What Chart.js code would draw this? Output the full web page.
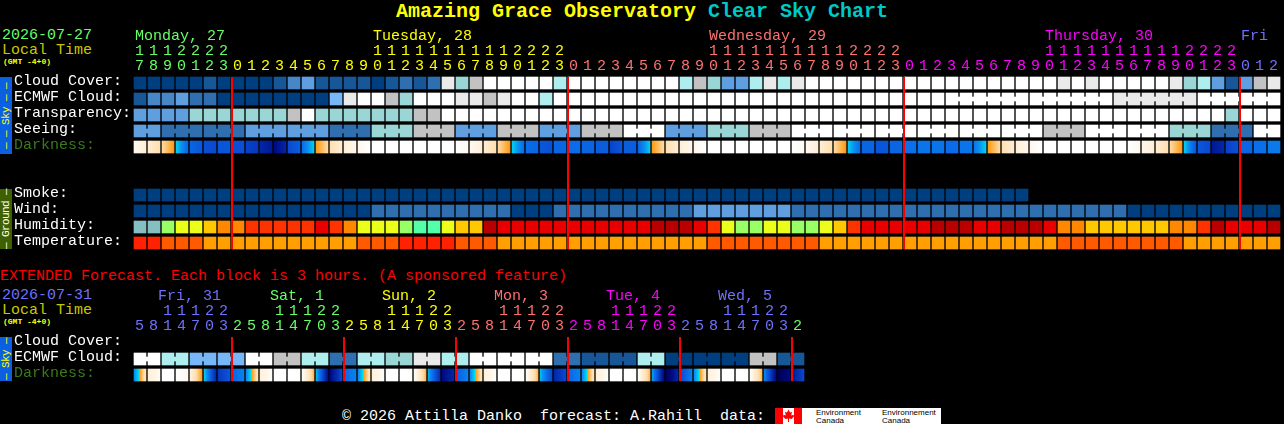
<!DOCTYPE html>
<html>
<head>
<meta charset="utf-8">
<title>Clear Sky Chart</title>
<script src="https://cdn.jsdelivr.net/npm/chart.js@4"></script>
<style>
    html, body { margin: 0; background: #000; width: 1284px; height: 424px; overflow: hidden; }
    canvas { position: absolute; left: 0; }
    .t { position: absolute; white-space: pre; font: 15px/15px 'Liberation Mono', monospace; }
    .small { font-size: 8px; line-height: 8px; color: #ffff00; font-weight: bold; }
    .side { position: absolute; left: 0; width: 12px; }
    .side span { position: absolute; left: 50%; top: 50%; transform: translate(-50%, -50%) rotate(-90deg);
        white-space: pre; font: 11px/11px 'Liberation Mono', monospace; letter-spacing: -0.6px; }
</style>
</head>
<body>
<div class="t" style="left:396px;top:0;font-size:20px;line-height:24px;font-weight:bold;color:#ffff00">Amazing Grace Observatory <span style="color:#00c8c8">Clear Sky Chart</span></div>

<div class="t" style="left:2px;top:28px;color:#66ff66">2026-07-27</div>
<div class="t" style="left:2px;top:43px;color:#c8c800">Local Time</div>
<div class="t small" style="left:3px;top:58px">(GMT -4+0)</div>

<div class="side" style="top:77px;height:77px;background:#0a60e0"><span style="color:#ffff00">— — Sky — —</span></div>
<div class="side" style="top:189px;height:60px;background:#3f6000"><span style="color:#ffffff">— Ground —</span></div>

<div class="t" style="left:0;top:269px;color:#ff0000">EXTENDED Forecast. Each block is 3 hours. (A sponsored feature)</div>
<div class="t" style="left:2px;top:288px;color:#7070ff">2026-07-31</div>
<div class="t" style="left:2px;top:303px;color:#c8c800">Local Time</div>
<div class="t small" style="left:3px;top:318px">(GMT -4+0)</div>
<div class="side" style="top:337px;height:44px;background:#0a60e0"><span style="color:#ffff00">— Sky —</span></div>

<div class="t" style="left:342px;top:409px;color:#fff">© 2026 Attilla Danko  forecast: A.Rahill  data:</div>
<svg style="position:absolute;left:775px;top:408px" width="27" height="16" viewBox="0 0 27 16">
    <rect width="27" height="16" fill="#fff"/>
    <rect width="8" height="16" fill="#f00"/>
    <rect x="19" width="8" height="16" fill="#f00"/>
    <polygon fill="#f00" points="13.5,1.5 15,4.5 17,3.8 16.2,7.5 18.5,6.8 19,8.5 16.5,11 14,10.5 14,14 13,14 13,10.5 10.5,11 8,8.5 8.5,6.8 10.8,7.5 10,3.8 12,4.5"/>
</svg>
<div style="position:absolute;left:802px;top:408px;width:139px;height:16px;background:#fff;color:#000;font:8px/7.5px 'Liberation Sans',sans-serif">
    <div style="position:absolute;left:14px;top:1px">Environment<br>Canada</div>
    <div style="position:absolute;left:80px;top:1px">Environnement<br>Canada</div>
</div>

<canvas id="main" width="1284" height="251" style="top:0"></canvas>
<canvas id="ext" width="1284" height="123" style="top:260px"></canvas>

<script>
// ---- main forecast, one value per hour ----
const hours = [17,18,19,20,21,22,23,
    0,1,2,3,4,5,6,7,8,9,10,11,12,13,14,15,16,17,18,19,20,21,22,23,
    0,1,2,3,4,5,6,7,8,9,10,11,12,13,14,15,16,17,18,19,20,21,22,23,
    0,1,2,3,4,5,6,7,8,9,10,11,12,13,14,15,16,17,18,19,20,21,22,23,
    0,1,2];
const dayLabels = { 0: 'Monday, 27', 17: 'Tuesday, 28', 41: 'Wednesday, 29', 65: 'Thursday, 30', 79: 'Fri' };
const midnights = [7, 31, 55, 79];

// sky rows: 0 = clear / best ... 10 = overcast / worst
const cloudCover = [0,0,0,0,0,1,0, 0,0,0,1,3,4,1, 1,1,1,0,1,2,1, 2,9,6,8,10,10,10,10,10,7,
    10,10,10,10,10,10,10,10, 7,8,6,4,4,7,9,7,9,
    10,10,10,10,10,10,10,10,10,10,10,10,10,10,10,10,10,10,
    9,10,9,10,10,10,10,10,9,6,7,4,1,4,8,9];
const ecmwfCloud = [1,3,3,4,2,2,0, 0,0,0,0,0,0,0, 5,9,10,10,8,6,10, 10,10,9,9,8,9,10,10,7,10,
    10,10,10,10,10,10,10,10,10,10,10,10,10,10,10,10,10,10,10,10,10,10,10,10,10,10,10,
    10,10,10,10,10,10, 10,10,10,10,10,10, 9,9,9,9,9,9, 10,10,10,10,10,10];
const transparency = [4,4,4,4,6,6,6,6,6,6,6,8,10,6,6,6,6,6,6,6,8,8,
    10,10,10,10,10,10,10,10,10,10,10,10,10,10,10,10,10,10,10,10,10,10,10,10,10,10,10,10,
    10,10,10,10,10,10,10,10,10,10,10,10,10,10,10,10,10,10,10,10,10,10,10,10,10,10,10,10,
    6,10,10,10];
const seeing = [4,4, 2,2,2, 2,2,2, 4,4,4, 4,4,4, 2,2,2, 6,6,6, 8,8,8, 4,4,4, 8,8,8, 4,4,4, 8,8,8,
    10,10,10, 4,4,4, 6,6,6, 8,8,8, 10,10,10, 10,10,10, 10,10,10, 10,10,10, 10,10,10, 10,10,10,
    8,8,8, 10,10,10, 10,10,10, 6,6,6, 2,2,2, 10,10];
// darkness at the left and right edge of each hour: 0 = daylight ... 9 = darkest
const darkStart = [.4,1.1,2,3.4,5.2,5.8,5.6, 5.8,6.2,7,8,6,5,3,1.8,1,.5,0,0,0,0,0,0,0,.4,1.1,2,3.4,5,5.6,5.2,
    5,5.2,5.4,6.2,5.4,5.2,3,1.8,1,.5,0,0,0,0,0,0,0,.4,1.1,2,3.4,5.2,5.6,5.2,
    4.9,4.8,4.8,5,4.8,4.8,3,1.8,1,.5,0,0,0,0,0,0,0,.5,1.1,2,3.4,5.6,7.5,6.2,
    5.2,4.9,4.7];
const darkEnd = [1,1.8,3,5.2,5.6,6,5.6, 5.8,6.5,7.5,7,5.4,3.4,2,1.1,.5,0,0,0,0,0,0,0,.3,1,1.8,3,5,5.2,5.8,5.2,
    5,5.2,5.4,5.6,5.4,3.4,2,1.1,.5,0,0,0,0,0,0,0,.3,1,1.8,3,5,5.2,5.6,5.2,
    4.9,4.8,4.8,5,4.8,3.4,2,1.1,.5,0,0,0,0,0,0,0,.4,1,1.8,3,5.6,6,7,5.8,
    5.2,4.9,4.7];
const smoke = new Array(64).fill(0);
const wind = [0,0,0,0,0,0,0,0,0,0,0,0,0,0,0,0,0, 2,2,2,2,2,2,2,2,2,2, 0,0,0, 2,2,2,2,2,2,2,2,2,2,
    4,4,4,4,4,4,4, 2,2,2,2,2,2,2,2,2,2,2,2, 2,2,2,2,2,2,2,2,2,2,2,2, 0,0,0,0,0,0,0,0,0,0,0];
const humidity = [50,50,60,65,65,70,75, 75,80,80,80,80,80,85,80,75,65,65,65,60,55,
    55,65,70,70,90,85,85,85,85,85, 85,85,85,85,85,85,90,90,90,85,80,65,60,60,65,65,60,60,65,70,80,
    85,85,85,85,85,90,90,90,85,85,90,90,90,85,75,75,70,70,70,70,70,70,75,75,80,90,85,85,85,90];
const temperature = [28,28,24,24,24,20,20, 20,20,20,20,20,20,20,20,20,24,24,24,28,28,
    28,28,24,24,24,20,20,20,20,20, 20,20,20,20,20,20,20,20,20,20,24,24,24,24,24,24,24,24,20,20,20,
    20,20,20,20,20,20,20,20,20,20,20,20,20,20,24,24,24,24,24,24,24,24,24,20,20,20,20,20,20,20];

// ---- extended forecast, 24 blocks of two 3 hour steps ----
const extHours = [5,8,11,14,17,20,23, 2,5,8,11,14,17,20,23, 2,5,8,11,14,17,20,23, 2,5,8,11,14,17,20,23,
    2,5,8,11,14,17,20,23, 2,5,8,11,14,17,20,23, 2];
const extDayLabels = { 1: ' Fri, 31', 9: ' Sat, 1', 17: ' Sun, 2', 25: ' Mon, 3', 33: ' Tue, 4', 41: ' Wed, 5' };
const extMidnights = [7, 15, 23, 31, 39, 47];
const extEcmwf = [10,7,5,5,10,8,7,2,7,6,9,7,10,10,10,2,1,1,7,0,0,0,8,1];
const extDarkStart = [4.4,1,0,0,.8,3.4,6.5,5.2, 4.4,1,0,0,.2,3.6,8,5.2, 4.4,1,0,0,.2,3.8,8,5.4,
    4.4,1,0,0,.2,3.6,7,5.2, 4.4,1,0,0,.2,4,8.8,6, 4.4,1,0,0,.2,4.4,9,7.5];
const extDarkEnd = [1.5,.3,0,.4,3,7,5.6,4.5, 1.5,.2,0,0,2.6,7.8,6,4.5, 1.5,.2,0,0,2.6,6.8,7,4.5,
    1.5,.2,0,0,2.6,6,6,4.5, 1.5,.2,0,0,2.6,8,7,4.5, 1.5,.2,0,0,2.6,8,8,6];

const mainRows = ['Cloud Cover:', 'ECMWF Cloud:', 'Transparency:', 'Seeing:', 'Darkness:', ' ', '  ',
    'Smoke:', 'Wind:', 'Humidity:', 'Temperature:'];
const extRows = ['Cloud Cover:', 'ECMWF Cloud:', 'Darkness:'];

// colour scales
const skyColors = ['#003f7f','#175797','#2f6faf','#4787c7','#5f9fdf','#77b7f7','#9ad6d6','#aeeeee','#c2c2c2','#eaeaea','#ffffff'];
const humidityColors = ['#85bfc2','#55ffaa','#99ff66','#ebff1a','#ffc800','#ff8800','#ff3300','#e80000','#b80000'];
const temperatureColors = ['#ffa000','#ff5a00','#ff2200'];
const darkRamp = [[0,'#ffffff'],[1,'#ffefd8'],[2,'#ffdca8'],[3,'#ff9a10'],[3.3,'#00d8f0'],[4.2,'#0a90f0'],
    [5,'#0a6ce8'],[6,'#0a48d0'],[7,'#0028a8'],[8,'#000880'],[9,'#000050']];
const dayColors = ['#66ff66','#ffff00','#ff7070','#ff00ff','#7070ff'];
const FONT = { family: "'Liberation Mono', monospace", size: 15, lineHeight: 1 };
const COLUMNS = 82; // both charts share this column width
const GAP = 1 / 14; // gap between two cells, half on each side

function hexToRgb(h) {
    return [1, 3, 5].map(i => parseInt(h.substr(i, 2), 16));
}

// colour on the darkness ramp
function darkColor(d) {
    let k = 0;
    while (k < darkRamp.length - 2 && d > darkRamp[k + 1][0]) k++;
    const [d0, c0] = darkRamp[k];
    const [d1, c1] = darkRamp[k + 1];
    const f = Math.min(1, Math.max(0, (d - d0) / (d1 - d0)));
    const a = hexToRgb(c0), b = hexToRgb(c1);
    return 'rgb(' + a.map((v, i) => Math.round(v + (b[i] - v) * f)).join(',') + ')';
}

// one row of cells. span is how many columns a value covers
function cellRow(label, values, colorOf, span) {
    span = span || 1;
    const data = [], colors = [];
    values.forEach((v, i) => {
        for (let s = 0; s < span; s++) {
            const col = i * span + s;
            data.push({ y: label, x: [col + GAP, col + 1 - GAP] });
            colors.push(colorOf(v));
        }
    });
    return { data, backgroundColor: colors, barThickness: 12, grouped: false, borderWidth: 0 };
}

// small bar across the gap between columns col and col+1
function linkRow(label, colValues, colorOf, isLinked) {
    const data = [], colors = [];
    colValues.forEach((v, col) => {
        if (col < colValues.length - 1 && isLinked(col)) {
            data.push({ y: label, x: [col + 1 - GAP, col + 1 + GAP] });
            colors.push(colorOf(v));
        }
    });
    return { data, backgroundColor: colors, barThickness: 4, grouped: false, borderWidth: 0 };
}

function darkRow(label, starts, ends) {
    const data = starts.map((v, col) => ({ y: label, x: [col + GAP, col + 1 - GAP] }));
    return {
        data, barThickness: 12, grouped: false, borderWidth: 0,
        backgroundColor(ctx) {
            // first call comes before the layout, the scales have no size yet
            if (ctx.type !== 'data' || !ctx.chart.chartArea) return '#000';
            const i = ctx.dataIndex, sx = ctx.chart.scales.x;
            const x0 = sx.getPixelForValue(i + GAP), x1 = sx.getPixelForValue(i + 1 - GAP);
            if (!isFinite(x0) || !isFinite(x1)) return '#000';
            const g = ctx.chart.ctx.createLinearGradient(x0, 0, x1, 0);
            for (let k = 0; k <= 8; k++) g.addColorStop(k / 8, darkColor(starts[i] + (ends[i] - starts[i]) * k / 8));
            return g;
        }
    };
}

// red line at each midnight, across all rows
const midnightLines = {
    id: 'midnightLines',
    afterDatasetsDraw(chart, args, opts) {
        const sx = chart.scales.x, sy = chart.scales.y, c = chart.ctx;
        const top = sy.getPixelForValue(0) - 6, bottom = sy.getPixelForValue(sy.max) + 6;
        c.save();
        c.fillStyle = '#ff0000';
        opts.cols.forEach(col => c.fillRect(sx.getPixelForValue(col), top, 2, bottom - top));
        c.restore();
    }
};

function makeChart(id, rows, hourList, days, colorAt, lines, datasets) {
    return new Chart(document.getElementById(id), {
        type: 'bar',
        data: { labels: rows, datasets },
        plugins: [midnightLines],
        options: {
            indexAxis: 'y',
            responsive: false,
            animation: false,
            events: [],
            layout: { padding: { left: 14, right: 3, top: 0, bottom: 0 } },
            plugins: { legend: { display: false }, tooltip: { enabled: false }, midnightLines: { cols: lines } },
            scales: {
                x: {
                    type: 'linear', position: 'top', min: 0, max: COLUMNS,
                    grid: { display: false, drawTicks: false }, border: { display: false },
                    afterBuildTicks(s) { s.ticks = hourList.map((h, i) => ({ value: i + 2 * GAP })); },
                    afterFit(s) { s.height = 75; s.paddingLeft = 0; s.paddingRight = 0; },
                    ticks: {
                        autoSkip: false, maxRotation: 0, minRotation: 0, align: 'start', padding: 1, font: FONT,
                        color: ctx => colorAt(ctx.index),
                        callback(v, i) {
                            const h = hourList[i];
                            return [days[i] || '', h > 9 ? String(Math.floor(h / 10)) : '', String(h % 10)];
                        }
                    }
                },
                y: {
                    type: 'category', labels: rows, offset: true,
                    grid: { display: false, drawTicks: false }, border: { display: false },
                    afterFit(s) { s.width = 119; s.paddingTop = 0; s.paddingBottom = 0; },
                    ticks: {
                        autoSkip: false, crossAlign: 'far', padding: 0,
                        // empty 2nd line with a 4px line height lifts the label 2px above the row centre
                        font: { family: FONT.family, size: 15, lineHeight: '4px' },
                        color: ctx => rows[ctx.index] === 'Darkness:' ? '#3a7a1a' : '#ffffff',
                        callback(v, i) { return [rows[i], '']; }
                    }
                }
            }
        }
    });
}

const sky = v => skyColors[v];
const hum = v => humidityColors[(v - 50) / 5];
const tmp = v => temperatureColors[(v - 20) / 4];

makeChart('main', mainRows, hours, dayLabels,
    i => dayColors[i < 7 ? 0 : i < 31 ? 1 : i < 55 ? 2 : i < 79 ? 3 : 4],
    midnights, [
        cellRow('Cloud Cover:', cloudCover, sky),
        cellRow('ECMWF Cloud:', ecmwfCloud, sky),
        linkRow('ECMWF Cloud:', ecmwfCloud, sky, col => col >= 58 && (col - 57) % 6 !== 0),
        cellRow('Transparency:', transparency, sky),
        cellRow('Seeing:', seeing, sky),
        linkRow('Seeing:', seeing, sky, col => (col + 1) % 3 !== 2),
        darkRow('Darkness:', darkStart, darkEnd),
        cellRow('Smoke:', smoke, sky),
        cellRow('Wind:', wind, sky),
        cellRow('Humidity:', humidity, hum),
        cellRow('Temperature:', temperature, tmp)
    ]);

const extEcmwfCols = extEcmwf.flatMap(v => [v, v]);
makeChart('ext', extRows, extHours, extDayLabels,
    i => i === 47 ? dayColors[0] : i < 7 ? dayColors[4] : dayColors[Math.floor((i - 7) / 8)],
    extMidnights, [
        cellRow('ECMWF Cloud:', extEcmwf, sky, 2),
        linkRow('ECMWF Cloud:', extEcmwfCols, sky, col => col % 2 === 0),
        darkRow('Darkness:', extDarkStart, extDarkEnd)
    ]);
</script>
</body>
</html>
